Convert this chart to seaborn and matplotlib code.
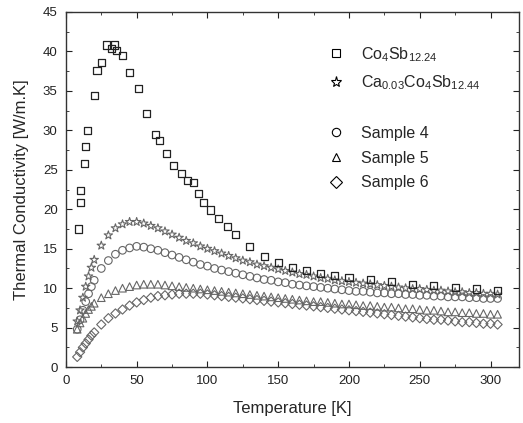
import numpy as np
import pandas as pd
import matplotlib
matplotlib.use('Agg')
import matplotlib.pyplot as plt
from matplotlib.lines import Line2D
from matplotlib.ticker import MultipleLocator
import seaborn as sns

# temperature grid shared by the four sample bands
temp = [8, 10, 12, 14, 16, 18, 20, 25, 30, 35, 40, 45, 50, 55, 60, 65, 70, 75,
        80, 85, 90, 95, 100, 105, 110, 115, 120, 125, 130, 135, 140, 145, 150,
        155, 160, 165, 170, 175, 180, 185, 190, 195, 200, 205, 210, 215, 220,
        225, 230, 235, 240, 245, 250, 255, 260, 265, 270, 275, 280, 285, 290,
        295, 300, 305]

k_ca = [5.8, 7.2, 8.8, 10.2, 11.5, 12.6, 13.6, 15.4, 16.7, 17.6, 18.1, 18.4,
        18.4, 18.2, 17.9, 17.6, 17.2, 16.8, 16.4, 16.0, 15.7, 15.3, 15.0, 14.7,
        14.4, 14.1, 13.8, 13.5, 13.3, 13.0, 12.8, 12.6, 12.4, 12.2, 12.0, 11.8,
        11.7, 11.5, 11.3, 11.2, 11.0, 10.9, 10.8, 10.7, 10.6, 10.5, 10.4, 10.3,
        10.2, 10.1, 10.0, 9.9, 9.9, 9.8, 9.7, 9.7, 9.6, 9.5, 9.5, 9.4, 9.4,
        9.3, 9.3, 9.2]

k_s4 = [4.8, 6.0, 7.2, 8.3, 9.3, 10.2, 11.0, 12.5, 13.5, 14.3, 14.8, 15.1,
        15.3, 15.2, 15.0, 14.8, 14.5, 14.2, 13.9, 13.6, 13.3, 13.0, 12.8, 12.5,
        12.3, 12.1, 11.9, 11.7, 11.5, 11.3, 11.1, 11.0, 10.8, 10.7, 10.5, 10.4,
        10.3, 10.2, 10.1, 10.0, 9.9, 9.8, 9.7, 9.6, 9.6, 9.5, 9.4, 9.4, 9.3,
        9.3, 9.2, 9.2, 9.1, 9.1, 9.0, 9.0, 8.9, 8.9, 8.9, 8.8, 8.8, 8.7, 8.7,
        8.7]

k_s5 = [4.8, 5.6, 6.2, 6.8, 7.3, 7.7, 8.1, 8.8, 9.3, 9.7, 10.0, 10.2, 10.4,
        10.5, 10.5, 10.5, 10.4, 10.3, 10.2, 10.1, 10.0, 9.9, 9.8, 9.7, 9.6,
        9.5, 9.4, 9.3, 9.2, 9.1, 9.0, 8.9, 8.8, 8.7, 8.6, 8.5, 8.4, 8.3, 8.3,
        8.2, 8.1, 8.0, 8.0, 7.9, 7.8, 7.8, 7.7, 7.6, 7.6, 7.5, 7.4, 7.4, 7.3,
        7.2, 7.2, 7.1, 7.0, 7.0, 6.9, 6.9, 6.8, 6.8, 6.7, 6.7]

k_s6 = [1.3, 1.9, 2.5, 3.0, 3.5, 4.0, 4.4, 5.4, 6.2, 6.8, 7.3, 7.8, 8.2, 8.5,
        8.8, 9.0, 9.1, 9.2, 9.3, 9.3, 9.3, 9.3, 9.2, 9.1, 9.0, 8.9, 8.8, 8.7,
        8.6, 8.5, 8.4, 8.3, 8.2, 8.1, 8.0, 7.9, 7.8, 7.7, 7.6, 7.5, 7.4, 7.3,
        7.2, 7.1, 7.0, 6.9, 6.8, 6.7, 6.6, 6.5, 6.4, 6.3, 6.2, 6.1, 6.0, 6.0,
        5.9, 5.8, 5.7, 5.7, 5.6, 5.5, 5.5, 5.4]

# unfilled Co4Sb12.24 (sparser points)
temp_co = [9, 10, 10.5, 13, 14, 15.5, 20, 22, 25, 29, 32, 34.5, 36, 40, 45, 51,
           57, 63, 66, 71, 76, 82, 86, 90, 94, 97, 102, 108, 114, 120, 130, 140,
           150, 160, 170, 180, 190, 200, 215, 230, 245, 260, 275, 290, 305]
k_co = [17.5, 20.8, 22.4, 25.8, 28.0, 30.0, 34.4, 37.6, 38.6, 40.8, 40.3, 40.8,
        40.1, 39.5, 37.3, 35.3, 32.1, 29.5, 28.7, 27.1, 25.5, 24.5, 23.6, 23.4,
        22.0, 20.8, 19.9, 18.8, 17.8, 16.8, 15.3, 14.0, 13.2, 12.6, 12.2, 11.9,
        11.6, 11.4, 11.1, 10.8, 10.5, 10.3, 10.1, 9.9, 9.7]

labels = [r'Co$_4$Sb$_{12.24}$', r'Ca$_{0.03}$Co$_4$Sb$_{12.44}$',
          'Sample 4', 'Sample 5', 'Sample 6']
markers = ['s', '*', 'o', '^', 'D']

sns.set_style('ticks')
plt.rcParams['font.family'] = ['Liberation Sans', 'DejaVu Sans']
plt.rcParams['mathtext.default'] = 'regular'

fig = plt.figure(figsize=(5.23, 4.23), dpi=100)
ax = fig.add_axes([0.126, 0.132, 0.866, 0.840])

bands = [(temp, k_ca, '*', 40), (temp, k_s4, 'o', 30),
         (temp, k_s5, '^', 30), (temp, k_s6, 'D', 22)]
for t, k, m, s in bands:
    df = pd.DataFrame({'T': t, 'k': k})
    sns.scatterplot(data=df, x='T', y='k', marker=m, s=s, facecolor='none',
                    edgecolor='#666666', linewidth=0.8, ax=ax, legend=False)

df_co = pd.DataFrame({'T': temp_co, 'k': k_co})
sns.scatterplot(data=df_co, x='T', y='k', marker='s', s=26, facecolor='none',
                edgecolor='#222222', linewidth=0.9, ax=ax, legend=False)

ax.set_xlim(0, 320)
ax.set_ylim(0, 45)
ax.xaxis.set_major_locator(MultipleLocator(50))
ax.xaxis.set_minor_locator(MultipleLocator(25))
ax.yaxis.set_major_locator(MultipleLocator(5))
ax.yaxis.set_minor_locator(MultipleLocator(2.5))
ax.set_xticks([0, 50, 100, 150, 200, 250, 300])
ax.tick_params(which='both', direction='in', top=True, right=True,
               labelsize=9.5, colors='#222222')
ax.tick_params(which='major', length=4, pad=6)
ax.tick_params(which='minor', length=2)
for sp in ax.spines.values():
    sp.set_color('#333333')
    sp.set_linewidth(1.0)
    sp.set_visible(True)

ax.set_xlabel('Temperature [K]', fontsize=12, labelpad=10)
ax.set_ylabel('Thermal Conductivity [W/m.K]', fontsize=12, labelpad=10)

handles = []
leg_labels = []
for i, (m, lab) in enumerate(zip(markers, labels)):
    handles.append(Line2D([], [], linestyle='none', marker=m,
                          markersize=8 if m == '*' else 6,
                          markerfacecolor='none', markeredgecolor='k',
                          markeredgewidth=0.8))
    leg_labels.append(lab)
    if i == 1:
        handles.append(Line2D([], [], linestyle='none'))
        leg_labels.append(' ')
ax.legend(handles, leg_labels, loc='upper left', bbox_to_anchor=(0.56, 0.925),
          frameon=False, fontsize=11.5, handletextpad=1.0, labelspacing=0.6,
          handlelength=1.2, borderaxespad=0)

fig.savefig('out.png', dpi=100)
